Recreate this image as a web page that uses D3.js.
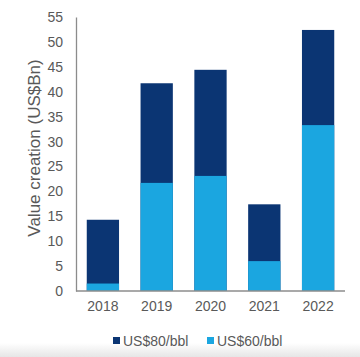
<!DOCTYPE html>
<html><head><meta charset="utf-8">
<script src="https://cdn.jsdelivr.net/npm/d3@7"></script>
<style>body{margin:0;background:#fff}svg{display:block}</style>
</head><body>
<svg id="c" width="360" height="357"></svg>
<script>
const years = ["2018","2019","2020","2021","2022"];
const us80 = [14.3, 41.7, 44.4, 17.4, 52.4];
const us60 = [1.5, 21.7, 23.1, 6.0, 33.3];
const yTicks = [0,5,10,15,20,25,30,35,40,45,50,55];
const seriesNames = ["US$80/bbl","US$60/bbl"];
const colors = ["#0b3573","#1ba6e0"];

const svg = d3.select("#c");
const defs = svg.append("defs");
const g = defs.append("linearGradient").attr("id","sh").attr("x1",0).attr("y1",0).attr("x2",0).attr("y2",1);
g.append("stop").attr("offset","0").attr("stop-color","#ffffff");
g.append("stop").attr("offset","1").attr("stop-color","#e6e6e6");
svg.append("rect").attr("x",0).attr("y",343).attr("width",360).attr("height",14).attr("fill","url(#sh)");

const x = d3.scaleBand().domain(years).range([76,345]).paddingInner(0.4).paddingOuter(0.2);
const y = d3.scaleLinear().domain([0,55]).range([291,17]);

svg.selectAll("rect.d").data(us80).join("rect").attr("class","d")
  .attr("x",(d,i)=>x(years[i])).attr("width",x.bandwidth())
  .attr("y",d=>y(d)).attr("height",d=>y(0)-y(d)).attr("fill",colors[0]);
svg.selectAll("rect.l").data(us60).join("rect").attr("class","l")
  .attr("x",(d,i)=>x(years[i])).attr("width",x.bandwidth())
  .attr("y",d=>y(d)).attr("height",d=>y(0)-y(d)).attr("fill",colors[1]);

const font = "Liberation Sans, Arial, sans-serif";
const ya = svg.append("g").attr("transform","translate(76,0)")
  .call(d3.axisLeft(y).tickValues(yTicks).tickSize(0).tickPadding(13));
ya.select(".domain").attr("stroke","#8c8c8c").attr("stroke-width",1.3);
ya.selectAll("text").attr("fill","#595959").style("font-family",font).style("font-size","14px");

const xa = svg.append("g").attr("transform","translate(0,291)")
  .call(d3.axisBottom(x).tickSize(0).tickPadding(10));
xa.select(".domain").attr("stroke","#8c8c8c").attr("stroke-width",1.3).attr("d","M76,0H345");
xa.selectAll("text").attr("fill","#595959").style("font-family",font).style("font-size","14px");

svg.append("text").attr("transform","translate(40,148) rotate(-90)")
  .attr("text-anchor","middle").attr("fill","#595959")
  .style("font-family",font).style("font-size","17px")
  .text("Value creation (US$Bn)");

const legX = [113, 207];
seriesNames.forEach((n,i)=>{
  svg.append("rect").attr("x",legX[i]).attr("y",337).attr("width",7).attr("height",7).attr("fill",colors[i]);
  svg.append("text").attr("x",legX[i]+10).attr("y",346).attr("fill","#595959")
    .style("font-family",font).style("font-size","14px").text(n);
});
</script>
</body></html>
